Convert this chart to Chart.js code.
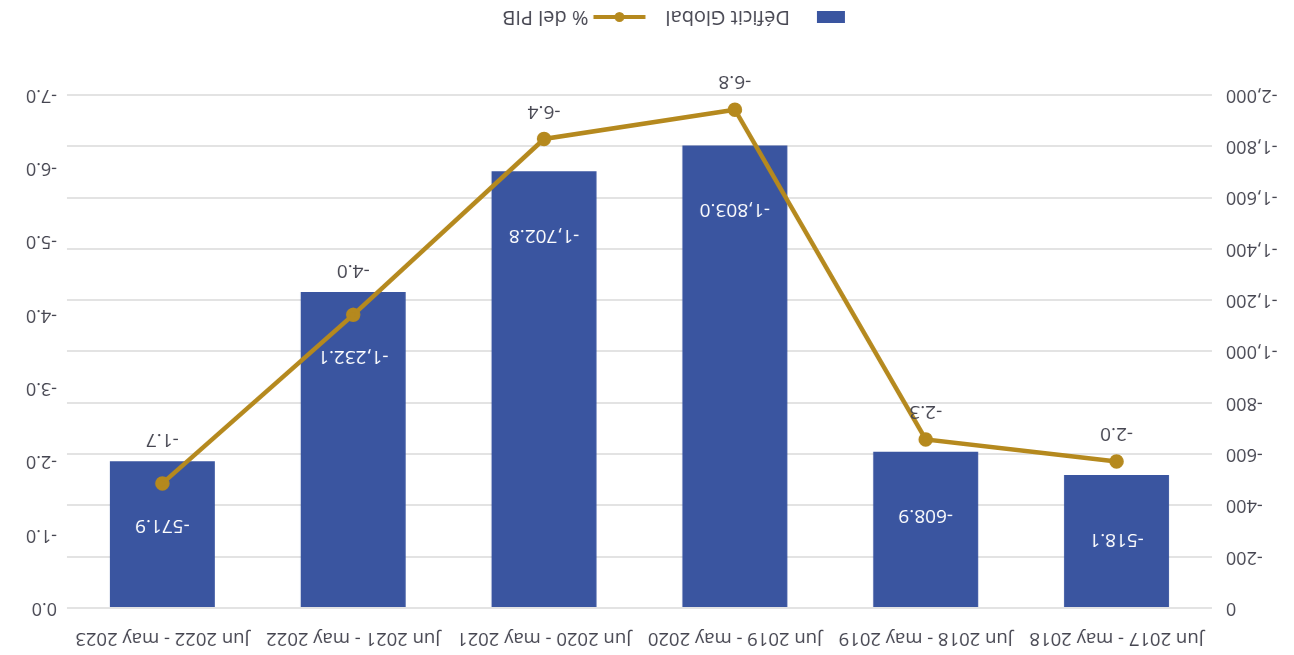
<!DOCTYPE html>
<html>
<head>
<meta charset="utf-8">
<script src="https://cdn.jsdelivr.net/npm/chart.js@4.4.1/dist/chart.umd.min.js"></script>
<style>
  html, body { margin: 0; padding: 0; background: #fff; }
  #wrap { width: 1294px; height: 655px; transform: rotate(180deg); }
</style>
</head>
<body>
<div id="wrap"><canvas id="deficitChart"></canvas></div>
<script>
const periods = ['Jun 2017 - may 2018', 'Jun 2018 - may 2019', 'Jun 2019 - may 2020',
                 'Jun 2020 - may 2021', 'Jun 2021 - may 2022', 'Jun 2022 - may 2023'];
const deficitGlobal = [-518.1, -608.9, -1803.0, -1702.8, -1232.1, -571.9];
const pctPIB = [-2.0, -2.3, -6.8, -6.4, -4.0, -1.7];
const barColor = '#3a55a0';
const lineColor = '#b5891e';
const textColor = '#454550';
const fontFamily = '"Open Sans", "Liberation Sans", sans-serif';

// value labels on bars and points
const valueLabels = {
  id: 'valueLabels',
  afterDatasetsDraw(chart) {
    const ctx = chart.ctx;
    const bars = chart.getDatasetMeta(1).data;
    ctx.save();
    ctx.textAlign = 'center';
    ctx.textBaseline = 'middle';
    bars.forEach((bar, i) => {
      ctx.font = '19px ' + fontFamily;
      ctx.fillStyle = '#ffffff';
      const v = deficitGlobal[i].toLocaleString('en-US', { minimumFractionDigits: 1, maximumFractionDigits: 1 });
      ctx.fillText(v, bar.x, bar.y - 64);
    });
    chart.getDatasetMeta(0).data.forEach((pt, i) => {
      ctx.font = '19px ' + fontFamily;
      ctx.fillStyle = textColor;
      // keep the label clear of the bar end
      const y = Math.max(pt.y + 28, bars[i].y + 22);
      ctx.fillText(pctPIB[i].toFixed(1), pt.x, y);
    });
    ctx.restore();
  }
};

// legend: box for bars, line with dot for the % series
const customLegend = {
  id: 'customLegend',
  afterDraw(chart) {
    const ctx = chart.ctx;
    ctx.save();
    ctx.font = '20px ' + fontFamily;
    ctx.textBaseline = 'middle';
    const y = 638;
    let x = 449;
    ctx.fillStyle = barColor;
    ctx.fillRect(x, y - 6, 28, 12);
    x += 55;
    ctx.fillStyle = textColor;
    ctx.fillText('Déficit Global', x, y);
    x += ctx.measureText('Déficit Global').width + 20;
    ctx.strokeStyle = lineColor;
    ctx.lineWidth = 4;
    ctx.beginPath();
    ctx.moveTo(x, y);
    ctx.lineTo(x + 52, y);
    ctx.stroke();
    ctx.fillStyle = lineColor;
    ctx.beginPath();
    ctx.arc(x + 26, y, 5, 0, Math.PI * 2);
    ctx.fill();
    x += 57;
    ctx.fillStyle = textColor;
    ctx.fillText('% del PIB', x, y);
    ctx.restore();
  }
};

const ctxDeficit = document.getElementById('deficitChart').getContext('2d');
const deficitChart = new Chart(ctxDeficit, {
  data: {
    labels: periods,
    datasets: [{
      type: 'line',
      label: '% del PIB',
      data: pctPIB,
      yAxisID: 'yPct',
      borderColor: lineColor,
      backgroundColor: lineColor,
      borderWidth: 4.5,
      pointRadius: 5,
      pointHoverRadius: 5,
      tension: 0,
      order: 0
    }, {
      type: 'bar',
      label: 'Déficit Global',
      data: deficitGlobal,
      yAxisID: 'y',
      backgroundColor: barColor,
      categoryPercentage: 1,
      barPercentage: 0.55,
      order: 1
    }]
  },
  options: {
    responsive: true,
    maintainAspectRatio: false,
    animation: false,
    layout: { padding: { bottom: 95 } },
    plugins: { legend: { display: false }, tooltip: { enabled: false } },
    scales: {
      x: {
        position: 'top',
        grid: { display: false },
        border: { display: false },
        ticks: { color: textColor, font: { size: 18.5, family: fontFamily }, padding: 11, maxRotation: 0 },
        afterFit: s => { s.height = 47; }
      },
      y: {
        position: 'left',
        min: -2000, max: 0,
        ticks: { stepSize: 200, color: textColor, font: { size: 18, family: fontFamily }, padding: 14,
                 callback: v => v.toLocaleString('en-US') },
        grid: { color: '#e3e3e3', lineWidth: 2, drawTicks: false },
        border: { display: false },
        afterFit: s => { s.width = 82; }
      },
      yPct: {
        position: 'right',
        min: -7, max: 0,
        ticks: { stepSize: 1, color: textColor, font: { size: 18, family: fontFamily }, padding: 10,
                 callback: v => v.toFixed(1) },
        grid: { display: false, drawTicks: false },
        border: { display: false },
        afterFit: s => { s.width = 67; }
      }
    }
  },
  plugins: [valueLabels, customLegend]
});
</script>
</body>
</html>
